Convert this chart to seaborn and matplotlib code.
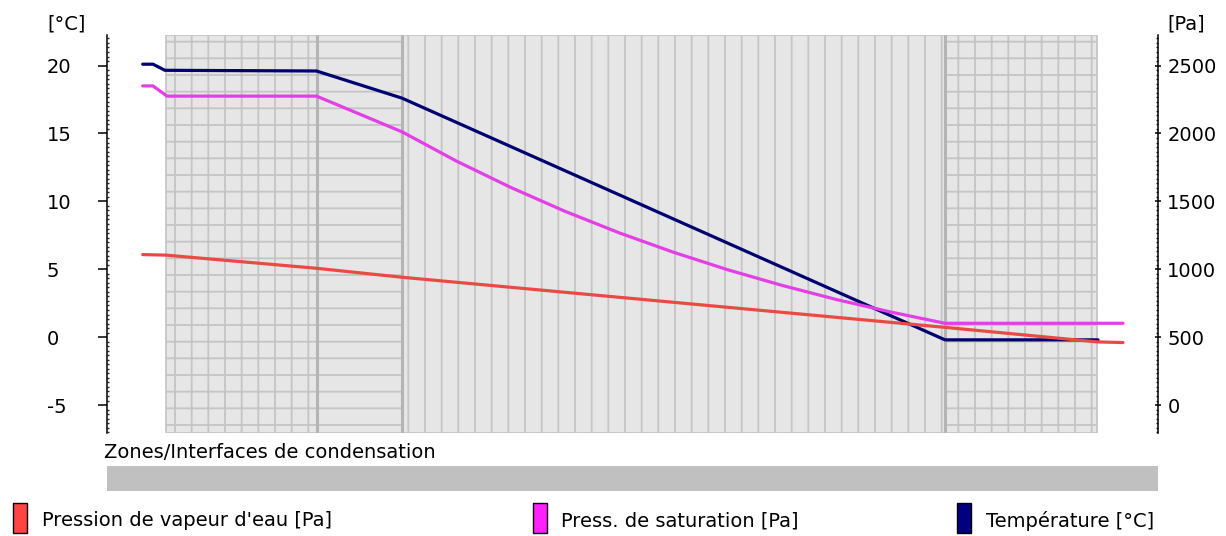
import seaborn as sns
import matplotlib.pyplot as plt
import matplotlib.transforms as mtransforms
from matplotlib.patches import Rectangle
from matplotlib.ticker import MultipleLocator

sns.set_style("white")
plt.rcParams['font.family'] = ['DejaVu Sans']
plt.rcParams['axes.unicode_minus'] = False
plt.rcParams['text.color'] = 'black'
plt.rcParams['hatch.linewidth'] = 1.3

# --- wall layers (position along the wall, grey zone starts at 0) ---
layer_edges = [0.0, 15.05, 23.6, 77.9, 93.1]
layer_hatch = ['+', '-', '|', '+']

# --- temperature [°C] ---
temp_x = [-2.33, -1.3, -0.1, 15.05, 23.6, 77.9, 93.2]
temp_y = [20.1, 20.1, 19.65, 19.6, 17.6, -0.2, -0.2]

# --- saturation pressure [Pa] ---
psat_x = [-2.33, -1.3, 0.1, 15.05, 23.6, 29.03, 34.46, 39.89, 45.32, 50.75,
          56.18, 61.61, 67.04, 72.47, 77.9, 95.7]
psat_y = [2350, 2350, 2275, 2275, 2012, 1797, 1603, 1427, 1268, 1125,
          996, 881, 777, 685, 602, 602]

# --- water vapour pressure [Pa] ---
pv_x = [-2.33, 0.0, 15.05, 23.6, 77.9, 93.1, 95.7]
pv_y = [1108, 1104, 1007, 941, 572, 465, 460]

labels = ["Pression de vapeur d'eau [Pa]", "Press. de saturation [Pa]", "Température [°C]"]
colors = ["#ea4a44", "#e23fe6", "#000070"]
box_colors = ["#ff4444", "#ff22ff", "#000080"]

W, H = 1226, 536
FS = 14
fig = plt.figure(figsize=(W / 100, H / 100), dpi=100)
ax = fig.add_axes([107 / W, 103 / H, 1051 / W, 398 / H])
ax.set_xlim(-5.9, 99.2)
ax.set_ylim(-7.06, 22.25)

# layer drawing
trans = mtransforms.blended_transform_factory(ax.transData, ax.transAxes)
for i, h in enumerate(layer_hatch):
    x0, x1 = layer_edges[i], layer_edges[i + 1]
    ax.add_patch(Rectangle((x0, 0), x1 - x0, 1, transform=trans,
                           facecolor="#e6e6e6", edgecolor="#c4c4c4",
                           hatch=h, lw=1.2, zorder=0))
ax.vlines(layer_edges[1:-1], 0, 1, transform=trans, colors="#b4b4b4",
          lw=2.2, zorder=1)

sns.lineplot(x=temp_x, y=temp_y, ax=ax, color=colors[2], linewidth=2.3,
             sort=False, zorder=3)

ax2 = ax.twinx()
ax2.set_ylim(-206, 2725)
sns.lineplot(x=psat_x, y=psat_y, ax=ax2, color=colors[1], linewidth=2.3,
             sort=False, zorder=3)
sns.lineplot(x=pv_x, y=pv_y, ax=ax2, color=colors[0], linewidth=2.3,
             sort=False, zorder=4)

# axes styling
ax.set_xticks([])
for s in ["top", "bottom", "right"]:
    ax.spines[s].set_visible(False)
    ax2.spines[s if s != "right" else "left"].set_visible(False)
ax.spines["left"].set_color("black")
ax.spines["left"].set_linewidth(1.1)
ax2.spines["right"].set_color("black")
ax2.spines["right"].set_linewidth(1.1)

ax.set_yticks([-5, 0, 5, 10, 15, 20])
ax.yaxis.set_minor_locator(MultipleLocator(1 / 3))
ax.tick_params(axis="y", which="major", direction="out", length=6.5, width=1.1,
               pad=36.7, labelsize=FS, colors="black", left=True)
ax.tick_params(axis="y", which="minor", direction="in", length=1.6, width=1.0,
               left=True)
plt.setp(ax.get_yticklabels(), ha="left")

ax2.set_yticks([0, 500, 1000, 1500, 2000, 2500])
ax2.yaxis.set_minor_locator(MultipleLocator(100 / 3))
ax2.tick_params(axis="y", which="major", direction="inout", length=4, width=1.1,
                pad=4.7, labelsize=FS, colors="black", right=True)
ax2.tick_params(axis="y", which="minor", direction="in", length=1.6, width=1.0,
                right=True)
ax.set_ylabel("")
ax2.set_ylabel("")

fig.text(47 / W, 1 - 30 / H, "[°C]", fontsize=FS, va="baseline")
fig.text(1167 / W, 1 - 30 / H, "[Pa]", fontsize=FS, va="baseline")

# condensation zone bar
fig.add_artist(Rectangle((107 / W, 45 / H), 1051 / W, 25 / H,
                         transform=fig.transFigure, color="#c0c0c0", lw=0))
fig.text(104 / W, 78 / H, "Zones/Interfaces de condensation", fontsize=FS,
         va="baseline")

# legend
box_x = [13, 533, 957]
text_x = [42, 561, 986]
for bx, tx, lab, c in zip(box_x, text_x, labels, box_colors):
    fig.add_artist(Rectangle((bx / W, 3 / H), 14 / W, 30 / H,
                             transform=fig.transFigure, facecolor=c,
                             edgecolor="black", lw=1.0))
    fig.text(tx / W, 15 / H, lab, fontsize=FS, va="center")

fig.savefig("out.png", dpi=100)
plt.close(fig)
